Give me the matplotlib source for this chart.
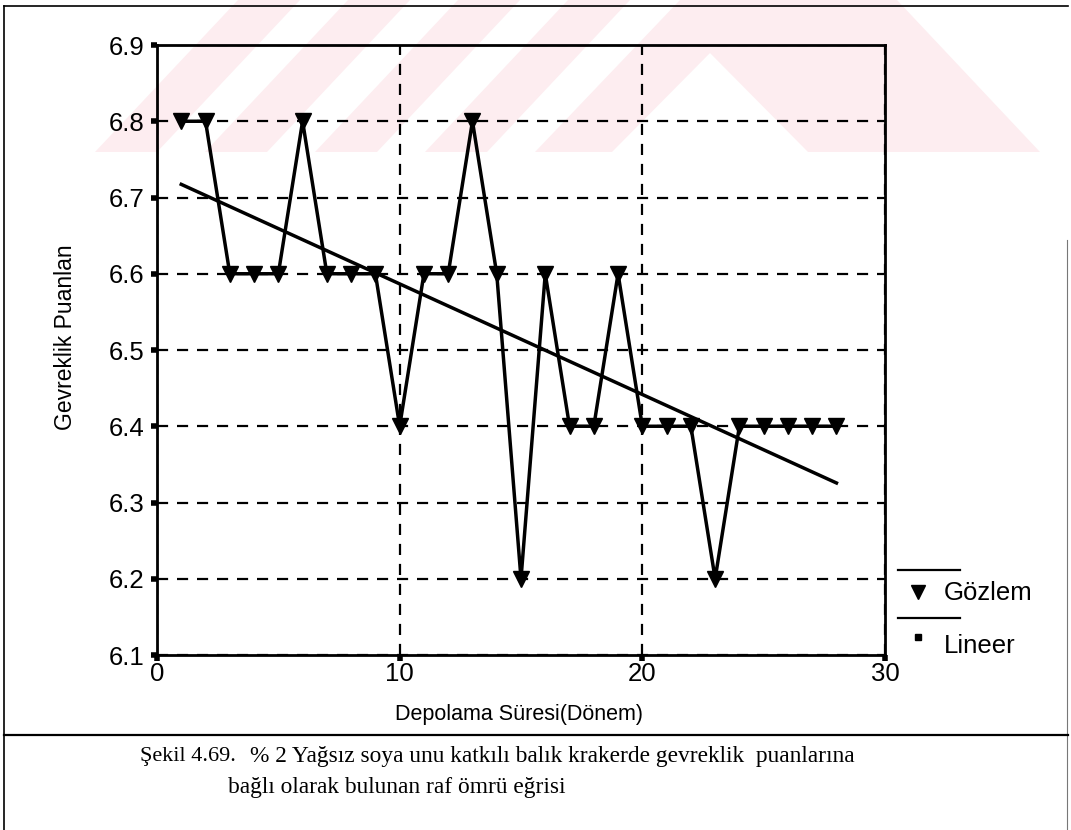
import numpy as np
import matplotlib
matplotlib.use("Agg")
import matplotlib.pyplot as plt
from matplotlib.patches import Polygon
from matplotlib.lines import Line2D

# Storage period (dönem) and crispness scores
period = [1, 2, 3, 4, 5, 6, 7, 8, 9, 10, 11, 12, 13, 14,
          15, 16, 17, 18, 19, 20, 21, 22, 23, 24, 25, 26, 27, 28]
score = [6.8, 6.8, 6.6, 6.6, 6.6, 6.8, 6.6, 6.6, 6.6, 6.4, 6.6, 6.6, 6.8, 6.6,
         6.2, 6.6, 6.4, 6.4, 6.6, 6.4, 6.4, 6.4, 6.2, 6.4, 6.4, 6.4, 6.4, 6.4]

x_ticks = [0, 10, 20, 30]
y_ticks = [6.1, 6.2, 6.3, 6.4, 6.5, 6.6, 6.7, 6.8, 6.9]

x_label = "Depolama Süresi(Dönem)"
y_label = "Gevreklik Puanlan"
legend_labels = ["Gözlem", "Lineer"]
caption_head = "Şekil 4.69."
caption_lines = ["% 2 Yağsız soya unu katkılı balık krakerde gevreklik  puanlarına",
                 "bağlı olarak bulunan raf ömrü eğrisi"]

W, H = 1071, 830
fig = plt.figure(figsize=(W / 100, H / 100), dpi=100)
fig.patch.set_facecolor("white")

# Page-level layer in pixel coordinates: light pink emblem and frame lines
bg = fig.add_axes([0, 0, 1, 1], zorder=0)
bg.set_xlim(0, W)
bg.set_ylim(H, 0)
bg.axis("off")
pink = "#fdedf0"
band_bottom = 152
for x0 in [95, 205, 315, 425]:
    bg.add_patch(Polygon([(x0, band_bottom), (x0 + 62, band_bottom),
                          (x0 + 62 + 143, 0), (x0 + 143, 0)],
                         closed=True, fc=pink, ec="none"))
bg.add_patch(Polygon([(535, band_bottom), (680, 0), (897, 0), (1040, band_bottom)],
                     closed=True, fc=pink, ec="none"))
bg.add_patch(Polygon([(612, band_bottom), (710, 53), (808, band_bottom)],
                     closed=True, fc="white", ec="none"))

frame_kw = dict(color="black", lw=1.2)
bg.plot([4, 1068], [6, 6], **frame_kw)
bg.plot([4, 4], [6, H], **frame_kw)
bg.plot([1067, 1067], [240, H], color="#777777", lw=0.8)
bg.plot([4, 1068], [735, 735], color="black", lw=1.6)

# Main plotting area
left, right, top, bottom = 157, 885, 45, 655
ax = fig.add_axes([left / W, (H - bottom) / H, (right - left) / W, (bottom - top) / H],
                  zorder=2)
ax.set_facecolor("none")
ax.set_xlim(0, 30)
ax.set_ylim(6.1, 6.9)
ax.set_xticks(x_ticks)
ax.set_yticks(y_ticks)
ax.set_xticklabels([str(v) for v in x_ticks])
ax.set_yticklabels([f"{v:.1f}" for v in y_ticks])

for s in ax.spines.values():
    s.set_linewidth(2.0)
    s.set_color("black")

for lbl in ax.get_xticklabels() + ax.get_yticklabels():
    lbl.set_fontfamily("Liberation Sans")
    lbl.set_fontsize(18.5)
ax.tick_params(axis="both", direction="out", length=4, width=4, color="black")
ax.tick_params(axis="y", pad=5)
ax.tick_params(axis="x", pad=1)

ax.grid(True, color="black", linewidth=1.6, linestyle=(0, (5, 4)))
ax.set_axisbelow(True)

# Observations
ax.plot(period, score, color="black", lw=2.5, marker="v", markersize=11,
        markeredgecolor="black", zorder=4)

# Linear fit
slope, intercept = np.polyfit(period, score, 1)
px = np.array([period[0], period[-1]])
ax.plot(px, intercept + slope * px, color="black", lw=2.5, zorder=3)

# Axis titles
fig.text(65 / W, 1 - 337 / H, y_label, rotation=90, ha="center", va="center",
         family="Liberation Sans", fontsize=16.5)
fig.text(519 / W, 1 - 714 / H, x_label, ha="center", va="center",
         family="Liberation Sans", fontsize=15.5)

# Legend entries drawn at the right of the plot
def fig_line(x0, x1, y):
    fig.add_artist(Line2D([x0 / W, x1 / W], [1 - y / H, 1 - y / H],
                          color="black", lw=1.6, transform=fig.transFigure))

fig_line(898, 960, 570)
fig.add_artist(Line2D([918 / W], [1 - 592 / H], marker="v", markersize=10,
                      color="black", linestyle="none", transform=fig.transFigure))
fig.text(944 / W, 1 - 593 / H, legend_labels[0], ha="left", va="center",
         family="Liberation Sans", fontsize=18.5)
fig_line(898, 960, 618)
fig.add_artist(Line2D([918 / W], [1 - 637 / H], marker="s", markersize=4.5,
                      color="black", linestyle="none", transform=fig.transFigure))
fig.text(944 / W, 1 - 646 / H, legend_labels[1], ha="left", va="center",
         family="Liberation Sans", fontsize=18.5)

# Caption
cap_font = dict(family="Liberation Serif", fontsize=16.8, color="black")
fig.text(140 / W, 1 - 756 / H, caption_head, ha="left", va="center",
         family="Liberation Serif", fontsize=16, color="black")
fig.text(250 / W, 1 - 756 / H, caption_lines[0], ha="left", va="center", **cap_font)
fig.text(228 / W, 1 - 787 / H, caption_lines[1], ha="left", va="center", **cap_font)

fig.savefig("out.png", dpi=100, facecolor="white")
